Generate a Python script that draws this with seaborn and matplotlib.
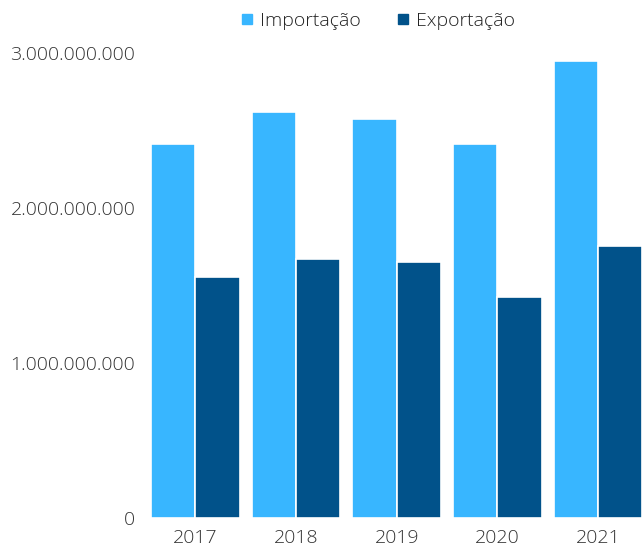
import matplotlib
matplotlib.use("Agg")
import matplotlib.pyplot as plt
from matplotlib.lines import Line2D
from matplotlib.ticker import FuncFormatter
import seaborn as sns
import pandas as pd

# Trade values per year
anos = ["2017", "2018", "2019", "2020", "2021"]
importacao = [2.412e9, 2.614e9, 2.569e9, 2.410e9, 2.943e9]
exportacao = [1.551e9, 1.667e9, 1.648e9, 1.426e9, 1.755e9]
series = ["Importação", "Exportação"]
cores = ["#38B6FF", "#01528A"]
yticks = [0, 1e9, 2e9, 3e9]

df = pd.DataFrame({
    "ano": anos * 2,
    "valor": importacao + exportacao,
    "tipo": [series[0]] * len(anos) + [series[1]] * len(anos),
})

sns.set_theme(style="white")
plt.rcParams["font.family"] = ["Open Sans", "DejaVu Sans"]

W, H = 642, 546
fig = plt.figure(figsize=(W / 100, H / 100), dpi=100)
ax = fig.add_axes([145 / W, (H - 518) / H, (642 - 145) / W, (518 - 52.5) / H])

sns.barplot(data=df, x="ano", y="valor", hue="tipo", hue_order=series,
            palette=cores, width=0.88, edgecolor="white", linewidth=1.2,
            saturation=1, ax=ax, legend=False)

ax.set_xlim(-0.5, 4.437)
ax.set_ylim(0, 3e9)
ax.set_yticks(yticks)
ax.yaxis.set_major_formatter(FuncFormatter(lambda v, p: f"{int(v):,}".replace(",", ".")))
ax.set_xlabel("")
ax.set_ylabel("")
for s in ax.spines.values():
    s.set_visible(False)
ax.tick_params(axis="y", length=0, pad=7, labelsize=14, labelcolor="#333333")
ax.tick_params(axis="x", length=0, pad=8, labelsize=14, labelcolor="#333333")
for lbl in ax.get_xticklabels() + ax.get_yticklabels():
    lbl.set_fontweight("light")

handles = [Line2D([0], [0], marker="s", linestyle="", markersize=7,
                  markerfacecolor=c, markeredgecolor=c) for c in cores]
leg = fig.legend(handles, series, loc="center", bbox_to_anchor=(376 / W, 1 - 21 / H),
                 ncol=2, frameon=False, fontsize=14, handletextpad=0.15,
                 columnspacing=1.7, handlelength=1.0)
for t in leg.get_texts():
    t.set_color("#222222")
    t.set_fontweight("light")

fig.savefig("out.png", dpi=100)
